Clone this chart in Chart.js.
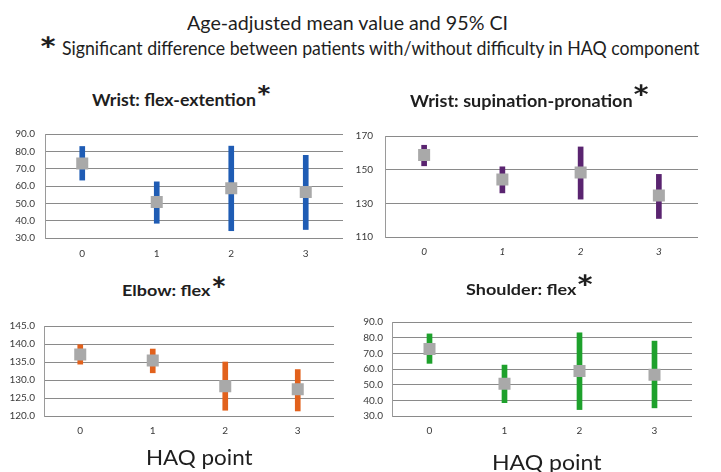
<!DOCTYPE html>
<html>
<head>
<meta charset="utf-8">
<script src="https://cdn.jsdelivr.net/npm/chart.js@4/dist/chart.umd.min.js"></script>
<style>
  body { margin: 0; width: 721px; height: 472px; overflow: hidden; position: relative; background: #fff; font-family: Lato, "Open Sans", sans-serif; color: #1e1e1e; }
  .t { position: absolute; white-space: nowrap; line-height: 1; transform-origin: 0 0; }
  .panel { position: absolute; }
</style>
</head>
<body>
<div class="panel" style="left:0;top:118px"><canvas id="wristFlex" width="360" height="150"></canvas></div>
<div class="panel" style="left:330px;top:118px"><canvas id="wristSup" width="391" height="150"></canvas></div>
<div class="panel" style="left:0;top:311px"><canvas id="elbowFlex" width="360" height="134"></canvas></div>
<div class="panel" style="left:340px;top:307px"><canvas id="shoulderFlex" width="381" height="138"></canvas></div>
<script>
// HAQ point categories
const haqPoints = ["0", "1", "2", "3"];

// Wrist: flex-extention (mean, 95% CI)
const wristFlexMean = [73.0, 50.8, 58.7, 56.6];
const wristFlexLow = [63.4, 38.5, 34.2, 34.9];
const wristFlexHigh = [82.8, 62.4, 83.0, 77.7];

// Wrist: supination-pronation
const wristSupMean = [158.7, 144.1, 148.3, 134.6];
const wristSupLow = [152.3, 136.2, 132.5, 121.0];
const wristSupHigh = [164.5, 151.7, 163.5, 147.2];

// Elbow: flex
const elbowMean = [137.1, 135.4, 128.3, 127.4];
const elbowLow = [134.4, 132.0, 121.6, 121.4];
const elbowHigh = [139.8, 138.6, 135.0, 132.9];

// Shoulder: flex
const shoulderMean = [72.8, 50.6, 58.7, 56.4];
const shoulderLow = [63.6, 38.5, 34.1, 35.2];
const shoulderHigh = [82.4, 62.5, 83.1, 77.8];

Chart.defaults.font.family = "Lato";
Chart.defaults.color = "#3a3a3a";

function makePanel(id, cfg) {
  const ctx = document.getElementById(id).getContext("2d");
  return new Chart(ctx, {
    data: {
      labels: haqPoints,
      datasets: [
        {
          type: "line",
          data: cfg.mean,
          showLine: false,
          pointStyle: "rect",
          pointRadius: 8.5,
          pointBackgroundColor: "#a9a9a9",
          pointBorderWidth: 0,
          order: 0,
        },
        {
          type: "bar",
          data: cfg.low.map((l, i) => [l, cfg.high[i]]),
          backgroundColor: cfg.color,
          barThickness: 5,
          order: 1,
        },
      ],
    },
    options: {
      responsive: false,
      animation: false,
      devicePixelRatio: 1,
      layout: { padding: { left: 0, right: cfg.padRight, top: cfg.padTop, bottom: 0 } },
      plugins: { legend: { display: false }, tooltip: { enabled: false } },
      scales: {
        x: {
          grid: { display: false, drawTicks: false },
          border: { display: false },
          ticks: {
            padding: cfg.xPad,
            color: "#3a3a3a",
            font: { size: 10, style: cfg.italicX ? "italic" : "normal" },
          },
          afterFit: (s) => { s.height = cfg.xHeight; },
        },
        y: {
          min: cfg.min,
          max: cfg.max,
          grid: { color: "#8a8a8a", lineWidth: 1, drawTicks: false },
          border: { display: true, color: "#9a9a9a" },
          ticks: {
            stepSize: cfg.step,
            padding: cfg.yPad,
            color: "#3a3a3a",
            font: { size: 10 },
            callback: (v) => v.toFixed(cfg.decimals),
          },
          afterFit: (s) => { s.width = cfg.yWidth; },
        },
      },
    },
  });
}

makePanel("wristFlex", {
  mean: wristFlexMean, low: wristFlexLow, high: wristFlexHigh, color: "#1f5cb4",
  min: 30, max: 90, step: 10, decimals: 1,
  yWidth: 45, xHeight: 30, padTop: 10, padRight: 17, xPad: 10, yPad: 10,
});
makePanel("wristSup", {
  mean: wristSupMean, low: wristSupLow, high: wristSupHigh, color: "#5a2470",
  min: 110, max: 170, step: 20, decimals: 0, italicX: true,
  yWidth: 55, xHeight: 31, padTop: 10, padRight: 23, xPad: 9, yPad: 12,
});
makePanel("elbowFlex", {
  mean: elbowMean, low: elbowLow, high: elbowHigh, color: "#e2611c",
  min: 120, max: 145, step: 5, decimals: 1,
  yWidth: 44, xHeight: 29, padTop: 10, padRight: 26, xPad: 9, yPad: 9,
});
makePanel("shoulderFlex", {
  mean: shoulderMean, low: shoulderLow, high: shoulderHigh, color: "#1ea12c",
  min: 30, max: 90, step: 10, decimals: 1,
  yWidth: 52, xHeight: 29, padTop: 10, padRight: 29, xPad: 9, yPad: 9,
});

// texts: fitted to the ink box seen in the reference
const measureCtx = document.createElement("canvas").getContext("2d");

function placeText(item) {
  const weight = item.weight || 400;
  const el = document.createElement("div");
  el.className = "t";
  el.textContent = item.text;
  const probe = document.createElement("span");
  probe.style.cssText = "display:inline-block;width:0;height:0;vertical-align:baseline";

  let size = item.size;
  measureCtx.font = `${weight} 40px Lato`;
  let m = measureCtx.measureText(item.text);
  let baseline = item.base;
  if (item.y0 !== undefined) {
    // size from ink height (used for the big asterisks)
    const h40 = m.actualBoundingBoxAscent + m.actualBoundingBoxDescent;
    size = (40 * (item.y1 - item.y0)) / h40;
    baseline = item.y0 + (m.actualBoundingBoxAscent * size) / 40;
  }
  measureCtx.font = `${weight} ${size}px Lato`;
  m = measureCtx.measureText(item.text);
  const inkW = m.actualBoundingBoxLeft + m.actualBoundingBoxRight;
  const sx = (item.x1 - item.x0) / inkW;

  el.style.fontSize = size + "px";
  el.style.fontWeight = weight;
  el.appendChild(probe);
  document.body.appendChild(el);
  const baseOff = probe.offsetTop;
  el.style.left = item.x0 + m.actualBoundingBoxLeft * sx + "px";
  el.style.top = baseline - baseOff + "px";
  el.style.transform = `scaleX(${sx})`;
}

const texts = [
  { text: "Age-adjusted mean value and 95% CI", x0: 187, x1: 507, base: 30, size: 20 },
  { text: "*", x0: 40, x1: 55, y0: 35, y1: 47, weight: 700 },
  { text: "Significant difference between patients with/without difficulty in HAQ component", x0: 62, x1: 700, base: 55, size: 20 },
  { text: "Wrist: flex-extention", x0: 92, x1: 255, base: 106, size: 17.5, weight: 700 },
  { text: "*", x0: 257, x1: 270, y0: 84, y1: 95, weight: 700 },
  { text: "Wrist: supination-pronation", x0: 410, x1: 632, base: 107, size: 17, weight: 700 },
  { text: "*", x0: 633, x1: 648, y0: 83, y1: 95, weight: 700 },
  { text: "Elbow: flex", x0: 123, x1: 211, base: 296, size: 16, weight: 700 },
  { text: "*", x0: 212, x1: 225, y0: 275, y1: 287, weight: 700 },
  { text: "Shoulder: flex", x0: 466, x1: 577, base: 295, size: 16, weight: 700 },
  { text: "*", x0: 577, x1: 592, y0: 273, y1: 285, weight: 700 },
  { text: "HAQ point", x0: 147, x1: 253, base: 465, size: 21 },
  { text: "HAQ point", x0: 493, x1: 602, base: 470, size: 21 },
];
texts.forEach(placeText);
</script>
</body>
</html>
